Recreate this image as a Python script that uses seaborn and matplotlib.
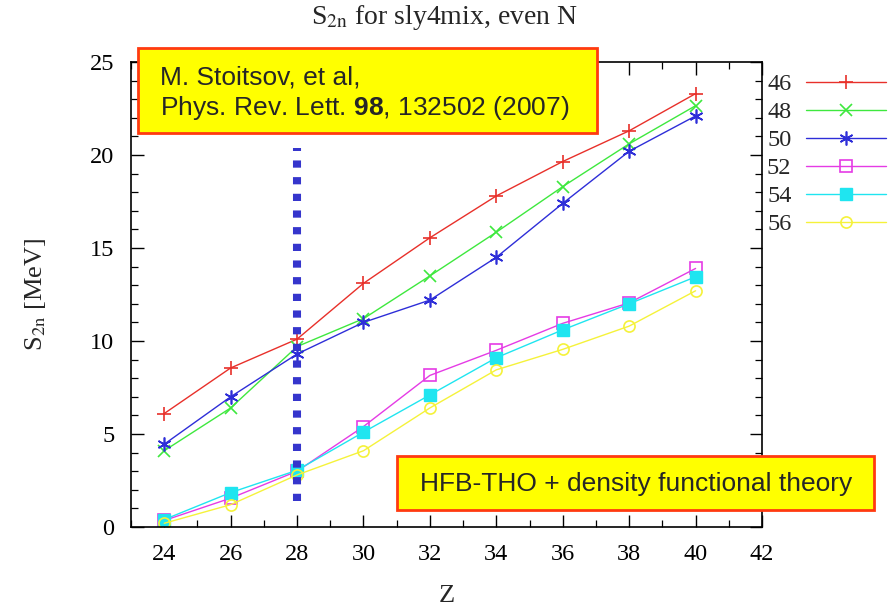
import matplotlib
matplotlib.use("Agg")
import matplotlib.pyplot as plt
from matplotlib.patches import Rectangle
import seaborn as sns
import pandas as pd

# ---- data ----
Z = [24, 26, 28, 30, 32, 34, 36, 38, 40]
N_labels = ["46", "48", "50", "52", "54", "56"]
s2n_46 = [6.1, 8.55, 10.1, 13.1, 15.55, 17.8, 19.65, 21.3, 23.3]
s2n_48 = [4.1, 6.4, 9.7, 11.2, 13.5, 15.85, 18.3, 20.6, 22.65]
s2n_50 = [4.45, 7.0, 9.3, 11.0, 12.2, 14.5, 17.4, 20.2, 22.1]
s2n_52 = [0.35, 1.55, 3.0, 5.4, 8.15, 9.5, 10.95, 12.05, 13.9]
s2n_54 = [0.4, 1.85, 3.05, 5.1, 7.1, 9.1, 10.6, 12.0, 13.45]
s2n_56 = [0.2, 1.2, 2.8, 4.1, 6.4, 8.45, 9.55, 10.8, 12.7]
series = [s2n_46, s2n_48, s2n_50, s2n_52, s2n_54, s2n_56]
x_ticks = [24, 26, 28, 30, 32, 34, 36, 38, 40, 42]
y_ticks = [0, 5, 10, 15, 20, 25]
magic_Z = 28
magic_span = (1.4, 20.4)

sns.set_theme(style="white")
plt.rcParams["font.family"] = ["Liberation Serif", "DejaVu Serif"]
plt.rcParams["mathtext.fontset"] = "custom"
plt.rcParams["mathtext.rm"] = "Liberation Sans"
plt.rcParams["mathtext.bf"] = "Liberation Sans:bold"
plt.rcParams["lines.scale_dashes"] = False

W, H = 895, 608
fig = plt.figure(figsize=(W / 100, H / 100), dpi=100)
ax = fig.add_axes([131 / W, 1 - 527 / H, (762 - 131) / W, (527 - 62) / H])

colors = ["#e8302a", "#3ee83e", "#2e2ed8", "#e53be5", "#1fe5f0", "#f5f23a"]
styles = [
    dict(marker="+", markersize=10, mew=1.2),
    dict(marker="x", markersize=8, mew=1.2),
    dict(marker=(6, 2, 0), markersize=10, mew=1.2),
    dict(marker="s", markersize=8, mew=1.2, markerfacecolor="none"),
    dict(marker="s", markersize=8, mew=1.0),
    dict(marker="o", markersize=8, mew=1.2, markerfacecolor="none"),
]

for lab, vals, col, st in zip(N_labels, series, colors, styles):
    df = pd.DataFrame({"Z": Z, "S2n": vals})
    sns.lineplot(data=df, x="Z", y="S2n", ax=ax, color=col, lw=1.0,
                 markeredgecolor=col, label=lab, **st)

ax.plot([magic_Z, magic_Z], list(magic_span), color="#3535cc", lw=5.8,
        linestyle=(0, (5.2, 6.8)), dash_capstyle="butt",
        solid_capstyle="butt", zorder=5)

ax.set_xlim(23, 42)
ax.set_ylim(0, 25)
ax.set_xticks(x_ticks)
ax.set_yticks(y_ticks)
ax.set_xticks(range(23, 42, 1), minor=True)
ax.set_yticks(range(0, 26, 1), minor=True)
ax.tick_params(which="both", direction="in", top=True, right=True,
               bottom=True, left=True, labelsize=17.5, colors="black")
ax.tick_params(which="major", length=9, width=1.0, pad=12)
ax.tick_params(which="minor", length=5, width=0.9)
for sp in ax.spines.values():
    sp.set_color("black")
    sp.set_linewidth(1.2)

ax.set_xlabel("Z", fontsize=19, labelpad=15)
ylab = ax.set_ylabel(r"S$_{\mathrm{2n}}$ [MeV]", fontsize=19, labelpad=30)
ylab.set_math_fontfamily("stix")
ttl = fig.text(444 / W, 1 - 18 / H, r"S$_{\mathrm{2n}}$ for sly4mix, even N",
               ha="center", va="center", fontsize=20)
ttl.set_math_fontfamily("stix")

leg = ax.legend(loc="upper left", bbox_to_anchor=(1 + 5 / 631, 1 - 11 / 465),
                frameon=False, markerfirst=False, fontsize=17.5,
                handlelength=3.3, handletextpad=0.6, labelspacing=0.25,
                borderpad=0, borderaxespad=0)

# annotation boxes
def box(x0, y0, x1, y1):
    r = Rectangle((x0 / W, 1 - y1 / H), (x1 - x0) / W, (y1 - y0) / H,
                  transform=fig.transFigure, facecolor="#ffff00",
                  edgecolor="#ff3a10", lw=2.0, zorder=10)
    fig.add_artist(r)

box(138, 48, 597, 133)
fig.text(160 / W, 1 - 77 / H, "M. Stoitsov, et al,", fontsize=19,
         family=["Liberation Sans"], va="center", ha="left", zorder=11)
t2 = fig.text(160 / W, 1 - 108 / H,
              r"Phys. Rev. Lett. $\mathbf{98}$, 132502 (2007)", fontsize=19,
              family=["Liberation Sans"], va="center", ha="left", zorder=11)
t2.set_math_fontfamily("custom")

box(397, 456, 874, 510)
fig.text(636 / W, 1 - 484 / H, "HFB-THO + density functional theory",
         fontsize=19, family=["Liberation Sans"], va="center", ha="center",
         zorder=11)

fig.savefig("out.png", dpi=100)
